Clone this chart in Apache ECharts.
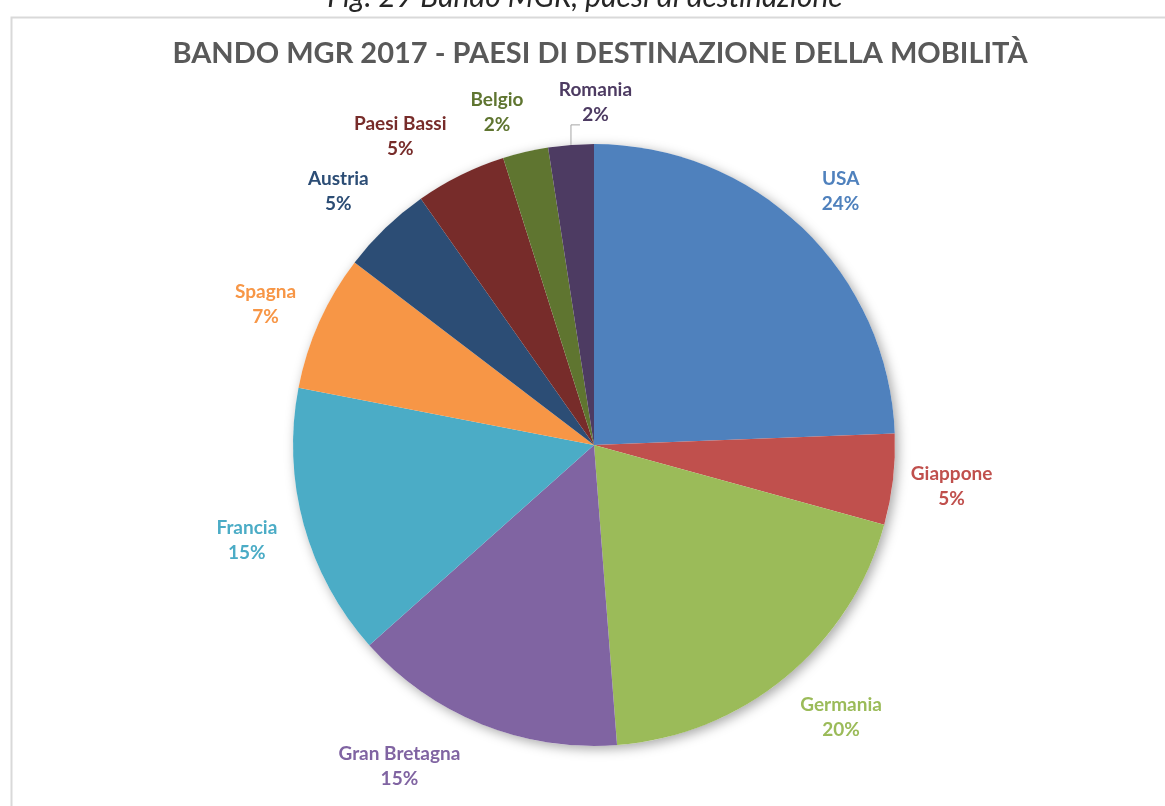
<!DOCTYPE html>
<html>
<head>
<meta charset="utf-8">
<script src="https://cdn.jsdelivr.net/npm/echarts@6/dist/echarts.min.js"></script>
<style>
html,body{margin:0;padding:0;background:#fff;}
#c{width:1165px;height:806px;}
</style>
</head>
<body>
<div id="c"></div>
<script>
// Data
const categories = ['USA', 'Giappone', 'Germania', 'Gran Bretagna', 'Francia', 'Spagna', 'Austria', 'Paesi Bassi', 'Belgio', 'Romania'];
const counts = [10, 2, 8, 6, 6, 3, 2, 2, 1, 1];
const titleText = 'BANDO MGR 2017 - PAESI DI DESTINAZIONE DELLA MOBILITÀ';
const captionText = 'Fig. 29 Bando MGR, paesi di destinazione';

// Styling
const palette = ['#4F81BD', '#C0504D', '#9BBB59', '#8064A2', '#4BACC6', '#F79646', '#2C4D75', '#772C2A', '#5F7530', '#4D3B62'];
const labelNudge = {'Germania': [18, -5], 'Gran Bretagna': [-60, -13], 'Paesi Bassi': [-34, 14], 'Belgio': [-15, 18], 'Romania': [29, 16], 'Austria': [-6, 6], 'Spagna': [0, 7], 'USA': [-3, 6]};
const total = counts.reduce((a, b) => a + b, 0);
const center = [594, 445];
const pieR = 301;
const font = 'Lato, "Open Sans", sans-serif';

// Leader line for the last (Romania) slice, starting at its mid-angle on the pie edge
const lastIdx = categories.length - 1;
const cumBefore = counts.slice(0, lastIdx).reduce((a, b) => a + b, 0);
const midAng = (cumBefore + counts[lastIdx] / 2) / total * 2 * Math.PI;
const lx = center[0] + pieR * Math.sin(midAng);
const ly = center[1] - pieR * Math.cos(midAng);

const chart = echarts.init(document.getElementById('c'), null, {renderer: 'canvas'});
chart.setOption({
  backgroundColor: '#fff',
  animation: false,
  color: palette,
  title: [
    {
      text: captionText, left: 580, top: -23, textAlign: 'center',
      textStyle: {fontFamily: font, fontStyle: 'italic', fontWeight: 'normal', fontSize: 30, color: '#262626'}
    },
    {
      text: titleText, left: 595, top: 34, textAlign: 'center',
      textStyle: {fontFamily: font, fontWeight: 'bold', fontSize: 29, color: '#595959'}
    }
  ],
  graphic: [
    {
      type: 'rect', left: 9, top: 15, z: -10,
      shape: {width: 1200, height: 900},
      style: {fill: 'none', stroke: '#d9d9d9', lineWidth: 2}
    },
    {
      type: 'polyline', z: 10, silent: true,
      shape: {points: [[lx, ly], [lx, ly - 20], [lx + 9, ly - 20]]},
      style: {fill: 'none', stroke: '#a6a6a6', lineWidth: 1}
    }
  ],
  series: [
    {
      type: 'pie', name: 'shadow', silent: true, center: center, radius: pieR,
      label: {show: false}, labelLine: {show: false},
      data: [{value: total}],
      itemStyle: {color: '#ffffff', shadowBlur: 12, shadowColor: 'rgba(0,0,0,0.35)', shadowOffsetX: 3, shadowOffsetY: 3},
      emphasis: {disabled: true}
    },
    {
      type: 'pie', name: 'main', silent: true, center: center, radius: pieR,
      startAngle: 90, clockwise: true,
      label: {show: false}, labelLine: {show: false},
      itemStyle: {borderWidth: 0},
      emphasis: {disabled: true},
      data: categories.map((n, i) => ({name: n, value: counts[i]}))
    },
    {
      type: 'pie', name: 'labels', silent: true, center: center, radius: [340, 374],
      startAngle: 90, clockwise: true, percentPrecision: 0,
      avoidLabelOverlap: false,
      labelLayout: {hideOverlap: false},
      itemStyle: {color: 'rgba(0,0,0,0)'},
      emphasis: {disabled: true},
      labelLine: {show: false},
      label: {
        show: true, position: 'inside', formatter: '{b}\n{d}%',
        fontFamily: font, fontWeight: 'bold', fontSize: 19, lineHeight: 25, align: 'center'
      },
      data: categories.map((n, i) => ({
        name: n, value: counts[i],
        label: {color: palette[i], offset: labelNudge[n] || [0, 0]}
      }))
    }
  ]
});
</script>
</body>
</html>
